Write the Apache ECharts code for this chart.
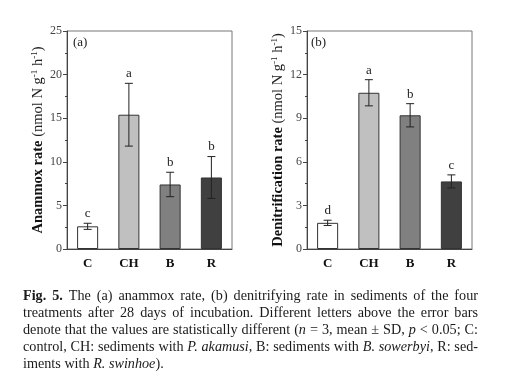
<!DOCTYPE html>
<html><head><meta charset="utf-8">
<script src="https://cdn.jsdelivr.net/npm/echarts@6/dist/echarts.min.js"></script>
<style>html,body{margin:0;padding:0;background:#fff}#c{width:507px;height:387px}</style>
</head><body><div id="c"></div>
<script>
const categories = ['C', 'CH', 'B', 'R'];
const anammoxMean = [2.6, 15.4, 7.4, 8.2];
const anammoxSD = [0.35, 3.6, 1.4, 2.4];
const anammoxLetters = ['c', 'a', 'b', 'b'];
const denitMean = [1.8, 10.75, 9.2, 4.65];
const denitSD = [0.18, 0.9, 0.8, 0.45];
const denitLetters = ['d', 'a', 'b', 'c'];
const barColors = ['#ffffff', '#c0c0c0', '#808080', '#404040'];
const leftTicks = [0, 5, 10, 15, 20, 25];
const rightTicks = [0, 3, 6, 9, 12, 15];

const captionLines = [
  [['fb', 'Fig. 5.'], ['r', ' The (a) anammox rate, (b) denitrifying rate in sediments of the four']],
  [['r', 'treatments after 28 days of incubation. Different letters above the error bars']],
  [['r', 'denote that the values are statistically different ('], ['i', 'n'], ['r', ' = 3, mean ± SD, '], ['i', 'p'], ['r', ' < 0.05; C:']],
  [['r', 'control, CH: sediments with '], ['i', 'P. akamusi'], ['r', ', B: sediments with '], ['i', 'B. sowerbyi'], ['r', ', R: sed-']],
  [['r', 'iments with '], ['i', 'R. swinhoe'], ['r', ').']]
];

const SERIF = '"Liberation Serif", "DejaVu Serif", serif';
const CAPF = '"Liberation Serif", serif';
const CAPS = 14.2;
const CAP_W = 455;
const chart = echarts.init(document.getElementById('c'), null, {renderer: 'canvas'});

function makeX(gi) {
  return {
    type: 'category', gridIndex: gi, data: categories,
    axisLine: {lineStyle: {color: '#444', width: 1}},
    axisTick: {alignWithLabel: true, length: 4, lineStyle: {color: '#444'}},
    axisLabel: {fontFamily: SERIF, fontWeight: 'bold', fontSize: 13, color: '#111', margin: 8},
    splitLine: {show: false}
  };
}
function makeY(gi, ticks, name, gap) {
  return {
    type: 'value', gridIndex: gi, min: ticks[0], max: ticks[ticks.length - 1],
    interval: ticks[1] - ticks[0],
    axisLine: {show: true, lineStyle: {color: '#444', width: 1}},
    axisTick: {show: true, length: 4, lineStyle: {color: '#444'}},
    minorTick: {show: true, splitNumber: 2, length: 2, lineStyle: {color: '#444'}},
    axisLabel: {fontFamily: SERIF, fontSize: 12, color: '#444', margin: 5},
    splitLine: {show: false},
    name: name, nameLocation: 'middle', nameGap: gap, nameRotate: 90,
    nameTextStyle: {
      fontFamily: SERIF, fontSize: 14.5, color: '#111',
      rich: {
        b: {fontFamily: SERIF, fontWeight: 'bold', fontSize: 14.5, color: '#111'},
        n: {fontFamily: SERIF, fontSize: 14.5, color: '#222'},
        s: {fontFamily: SERIF, fontSize: 9, color: '#222', verticalAlign: 'top', padding: [0, 0, 7, 0]}
      }
    }
  };
}

function errSeries(gi, means, sds, letters) {
  return {
    type: 'custom', xAxisIndex: gi, yAxisIndex: gi, z: 5,
    data: means.map((m, i) => [i, m, sds[i]]),
    renderItem: function (params, api) {
      const i = api.value(0), m = api.value(1), sd = api.value(2);
      const top = api.coord([i, m + sd]);
      const bot = api.coord([i, m - sd]);
      const cap = 4;
      const ls = {stroke: '#222', lineWidth: 1};
      return {
        type: 'group',
        children: [
          {type: 'line', shape: {x1: top[0], y1: top[1], x2: bot[0], y2: bot[1]}, style: ls},
          {type: 'line', shape: {x1: top[0] - cap, y1: top[1], x2: top[0] + cap, y2: top[1]}, style: ls},
          {type: 'line', shape: {x1: bot[0] - cap, y1: bot[1], x2: bot[0] + cap, y2: bot[1]}, style: ls},
          {type: 'text', style: {text: letters[i], x: top[0], y: top[1] - 3, align: 'center', verticalAlign: 'bottom',
            font: '13px ' + SERIF, fill: '#222'}}
        ]
      };
    }
  };
}

function barSeries(gi, means) {
  return {
    type: 'bar', xAxisIndex: gi, yAxisIndex: gi, barWidth: '51%',
    data: means.map((v, i) => ({value: v, itemStyle: {color: barColors[i]}})),
    itemStyle: {borderColor: '#333', borderWidth: 1}
  };
}

// caption: build justified rich text lines
const mctx = document.createElement('canvas').getContext('2d');
const styleFont = {
  r: CAPS + 'px ' + CAPF,
  i: 'italic ' + CAPS + 'px ' + CAPF,
  fb: 'bold ' + CAPS + 'px ' + CAPF
};
function measure(txt, st) { mctx.font = styleFont[st]; return mctx.measureText(txt).width; }
const capRich = {
  r: {fontFamily: CAPF, fontSize: CAPS, color: '#1a1a1a'},
  i: {fontFamily: CAPF, fontSize: CAPS, fontStyle: 'italic', color: '#1a1a1a'},
  fb: {fontFamily: CAPF, fontSize: CAPS, fontWeight: 'bold', color: '#1a1a1a'}
};
const captionGraphics = captionLines.map((segs, k) => {
  const toks = [];
  let wordsW = 0, nsp = 0;
  segs.forEach(([st, txt]) => {
    const parts = txt.split(' ');
    parts.forEach((p, j) => {
      if (j > 0) { toks.push(null); nsp++; }
      if (p.length) { toks.push([st, p]); wordsW += measure(p, st); }
    });
  });
  const natSp = measure(' ', 'r');
  const justify = k < captionLines.length - 1;
  const spW = justify ? Math.max((CAP_W - wordsW) / nsp, natSp * 0.6) : natSp;
  const spName = 'sp' + k;
  capRich[spName] = {fontFamily: CAPF, fontSize: CAPS, width: spW};
  const str = toks.map(t => t ? '{' + t[0] + '|' + t[1] + '}' : '{' + spName + '| }').join('');
  return {type: 'text', left: 23, top: 289 + k * 17, style: {text: str, rich: capRich, font: CAPS + 'px ' + CAPF, fill: '#1a1a1a'}};
});

chart.setOption({
  animation: false,
  backgroundColor: '#fff',
  grid: [
    {left: 67, right: 275, top: 31, bottom: 138, show: true, borderColor: '#777', borderWidth: 1, backgroundColor: 'transparent'},
    {left: 307, right: 35, top: 31, bottom: 138, show: true, borderColor: '#777', borderWidth: 1, backgroundColor: 'transparent'}
  ],
  xAxis: [makeX(0), makeX(1)],
  yAxis: [
    makeY(0, leftTicks, '{b|Anammox rate} {n|(nmol N g}{s|-1}{n| h}{s|-1}{n|)}', 19),
    makeY(1, rightTicks, '{b|Denitrification rate} {n|(nmol N g}{s|-1}{n| h}{s|-1}{n|)}', 20)
  ],
  series: [
    barSeries(0, anammoxMean), errSeries(0, anammoxMean, anammoxSD, anammoxLetters),
    barSeries(1, denitMean), errSeries(1, denitMean, denitSD, denitLetters)
  ],
  graphic: [
    {type: 'text', left: 73, top: 36, style: {text: '(a)', font: '13px ' + SERIF, fill: '#222'}},
    {type: 'text', left: 311, top: 36, style: {text: '(b)', font: '13px ' + SERIF, fill: '#222'}}
  ].concat(captionGraphics)
});
</script></body></html>
